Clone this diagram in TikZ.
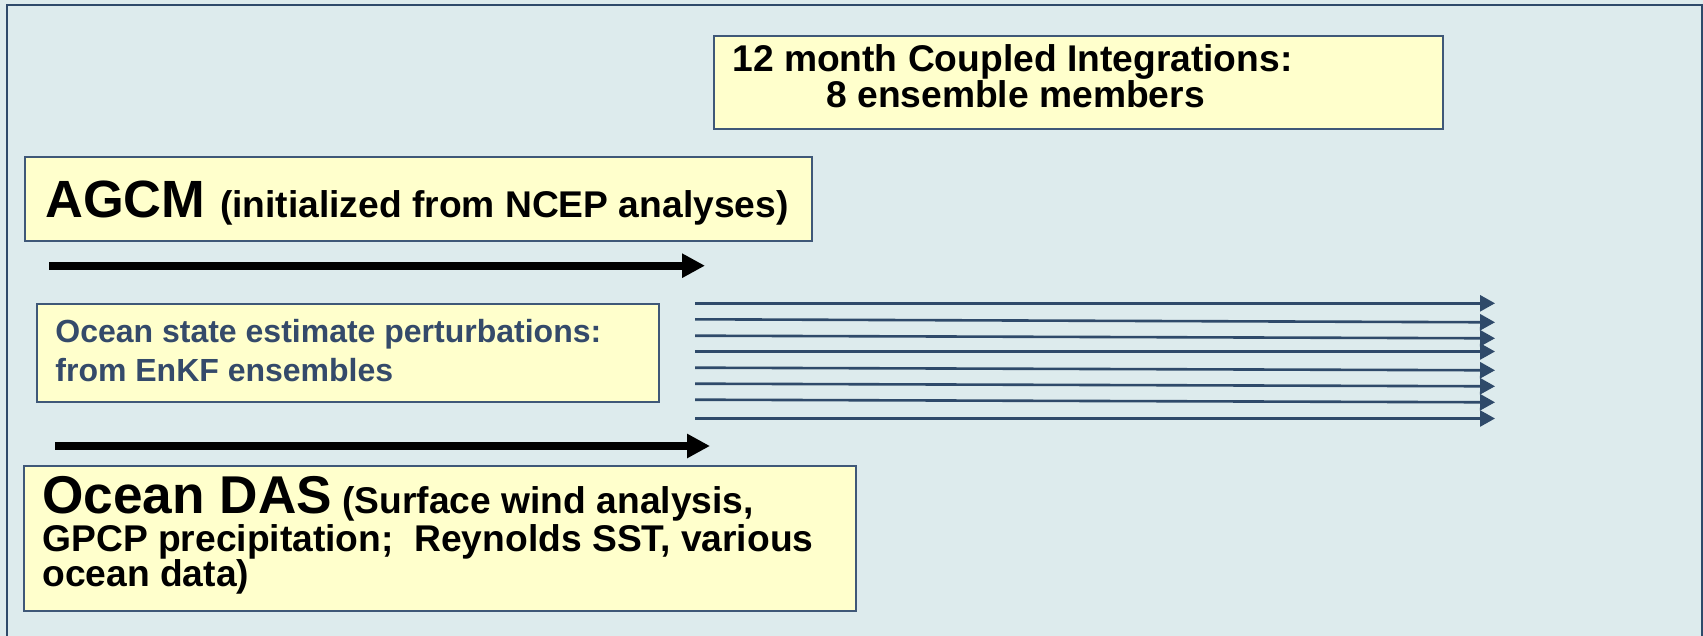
\documentclass[tikz,border=0pt]{standalone}
\usepackage{fontspec}
\setmainfont{Liberation Sans}
\usetikzlibrary{arrows.meta}
\definecolor{slidebg}{RGB}{221,235,237}
\definecolor{framecol}{RGB}{47,74,106}
\definecolor{boxfill}{RGB}{255,255,204}
\definecolor{boxline}{RGB}{63,88,120}
\definecolor{statetext}{RGB}{52,74,106}
\tikzset{panel/.style={draw=boxline,fill=boxfill,line width=1pt,inner sep=0pt,anchor=north west},
 boxtext/.style={anchor=base west,inner sep=0pt,align=left},
 bigarrow/.style={draw=black,line width=4pt,-{Triangle[length=11.5pt,width=11.5pt]}},
 member/.style={draw=framecol,line width=1.3pt,-{Triangle[length=7.5pt,width=8pt]}},
 every picture/.style={line join=miter}}

\begin{document}
\begin{tikzpicture}[x=0.5pt,y=-0.5pt]
\useasboundingbox[fill=slidebg] (0,0) rectangle (1703,636);
\draw[draw=framecol,line width=1pt] (7,636) -- (7,5) -- (1702,5) -- (1702,636);
% boxes (text anchored at the baseline of its last line)
\node[panel,minimum width=364.5pt,minimum height=46.5pt] (coupled) at (713,35) {};
\node[boxtext,font=\fontsize{18.6}{17.8}\selectfont\bfseries] (coupledtxt) at (732,107.3)
 {12 month Coupled Integrations:\\\hspace*{47pt}8 ensemble members};
\node[panel,minimum width=393.5pt,minimum height=42pt] (agcm) at (24,156) {};
\node[boxtext,font=\bfseries] (agcmtxt) at (45,217.3)
 {\fontsize{26.2}{28}\selectfont AGCM \fontsize{18.6}{20}\selectfont(initialized from NCEP analyses)};
\node[panel,minimum width=311pt,minimum height=49pt] (state) at (36,303) {};
\node[boxtext,text=statetext,font=\fontsize{16}{19.35}\selectfont\bfseries] (statetxt) at (55,381.7)
 {Ocean state estimate perturbations:\\from EnKF ensembles};
\node[panel,minimum width=416pt,minimum height=72.5pt] (das) at (23,465) {};
\node[boxtext,font=\fontsize{18.6}{17.5}\selectfont\bfseries] (dastxt) at (42,586.7)
 {{\fontsize{26.6}{28}\selectfont Ocean DAS} (Surface wind analysis,\\[1.7pt]GPCP precipitation;\ \ Reynolds SST, various\\ocean data)};
% time axes
\coordinate (atm0) at (49,265.7);
\coordinate (atm1) at (705,265.7);
\coordinate (ocn0) at (55,446);
\coordinate (ocn1) at (710,446);
\draw[bigarrow] (atm0) -- (atm1);
\draw[bigarrow] (ocn0) -- (ocn1);
% ensemble members
\coordinate (m1a) at (695,303.3);
\coordinate (m1b) at (1495,303.3);
\coordinate (m2a) at (695,319.3);
\coordinate (m2b) at (1495,322.3);
\coordinate (m3a) at (695,335.7);
\coordinate (m3b) at (1495,338.3);
\coordinate (m4a) at (695,351.5);
\coordinate (m4b) at (1495,351.5);
\coordinate (m5a) at (695,367.7);
\coordinate (m5b) at (1495,370.3);
\coordinate (m6a) at (695,383.7);
\coordinate (m6b) at (1495,386.3);
\coordinate (m7a) at (695,399.7);
\coordinate (m7b) at (1495,402.3);
\coordinate (m8a) at (695,418.5);
\coordinate (m8b) at (1495,418.5);
\draw[member] (m1a) -- (m1b);
\draw[member] (m2a) -- (m2b);
\draw[member] (m3a) -- (m3b);
\draw[member] (m4a) -- (m4b);
\draw[member] (m5a) -- (m5b);
\draw[member] (m6a) -- (m6b);
\draw[member] (m7a) -- (m7b);
\draw[member] (m8a) -- (m8b);
\end{tikzpicture}
\end{document}
